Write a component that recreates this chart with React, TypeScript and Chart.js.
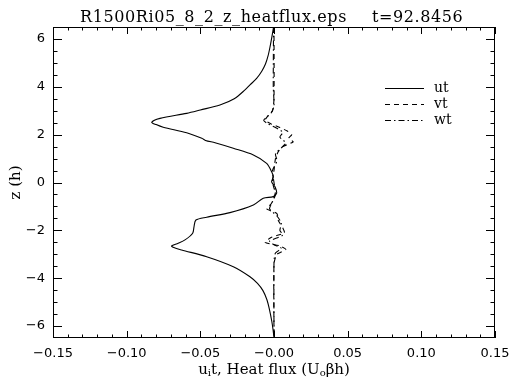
import { useEffect, useRef } from "react";
import { Chart, registerables } from "chart.js";
Chart.register(...registerables);

const seriesNames = ["ut", "vt", "wt"];

const zUt = [6.5, 6.1, 5.7, 5.3, 4.95, 4.65, 4.35, 4.08, 3.87, 3.5, 3.24, 3.03, 2.89, 2.68, 2.52, 2.42, 2.31, 2.08, 1.85, 1.76, 1.66, 1.43, 1.15, 0.8, 0.45, 0.24, 0.03, -0.18, -0.45, -0.59, -0.66, -0.94, -1.26, -1.45, -1.57, -1.85, -2.12, -2.4, -2.54, -2.65, -2.72, -2.82, -3.1, -3.52, -3.94, -4.22, -4.52, -4.9, -5.33, -5.8, -6.17, -6.5];
const ut = [-0.0003, -0.0014, -0.0026, -0.004, -0.0058, -0.0083, -0.0118, -0.0163, -0.0197, -0.027, -0.0367, -0.05, -0.0593, -0.0774, -0.083, -0.080, -0.0752, -0.0593, -0.049, -0.0465, -0.040, -0.0276, -0.014, -0.005, -0.0016, -0.0005, -0.0016, 0.0007, 0.0018, -0.0005, -0.0073, -0.014, -0.0299, -0.0457, -0.053, -0.0543, -0.0552, -0.0604, -0.065, -0.0695, -0.068, -0.0627, -0.0457, -0.0276, -0.0163, -0.0112, -0.0075, -0.0048, -0.003, -0.0015, -0.0006, 0.0];

const zVt = [6.5, 3.5, 3.0, 2.8, 2.6, 2.45, 2.3, 2.15, 2.0, 1.85, 1.7, 1.5, 1.3, 1.0, 0.5, 0.0, -0.5, -0.9, -1.1, -1.3, -1.6, -1.9, -2.1, -2.3, -2.5, -2.65, -2.8, -3.0, -3.4, -6.5];
const vt = [0.0, 0.0, -0.001, -0.004, -0.006, -0.002, 0.004, 0.009, 0.012, 0.01, 0.013, 0.006, 0.003, 0.001, 0.0, -0.001, 0.001, -0.002, -0.005, 0.002, 0.003, 0.006, 0.007, -0.002, -0.006, 0.004, 0.008, 0.002, 0.0, 0.0];

const zWt = [6.5, 4.0, 3.2, 2.9, 2.6, 2.45, 2.3, 2.1, 1.9, 1.65, 1.45, 1.2, 0.9, 0.5, 0.0, -0.4, -0.8, -1.1, -1.4, -1.7, -2.0, -2.2, -2.45, -2.6, -2.75, -2.95, -3.3, -6.5];
const wt = [-0.0003, -0.0005, 0.0, -0.002, -0.007, -0.004, 0.001, 0.006, 0.004, 0.008, 0.005, 0.001, 0.002, -0.001, 0.0, 0.001, -0.001, -0.003, 0.002, 0.005, 0.004, 0.006, -0.003, 0.0, 0.005, 0.001, 0.0, 0.0];

const xTicks = [-0.15, -0.1, -0.05, 0, 0.05, 0.1, 0.15];
const xTickLabels = ["\u22120.15", "\u22120.10", "\u22120.05", "\u22120.00", "0.05", "0.10", "0.15"];
const yTicks = [-6, -4, -2, 0, 2, 4, 6];
const yTickLabels = ["\u22126", "\u22124", "\u22122", "0", "2", "4", "6"];
const xMinorStep = 0.01;
const yMinorStep = 0.5;

const titleLeft = "R1500Ri05_8_2_z_heatflux.eps";
const titleRight = "t=92.8456";
const yTitle = "z (h)";

const SERIF = "'DejaVu Serif', serif";
const SANS = "'DejaVu Sans', sans-serif";
const dashes = [[], [5, 4], [6, 3, 1.5, 3]];

const framePlugin = {
  id: "frame",
  afterDatasetsDraw(chart: any) {
    const { ctx, chartArea: a, scales } = chart;
    const xs = scales.x;
    const ys = scales.y;
    ctx.save();
    ctx.strokeStyle = "#000";
    ctx.fillStyle = "#000";
    ctx.lineWidth = 1;
    ctx.setLineDash([]);
    ctx.strokeRect(a.left + 0.5, a.top + 0.5, a.right - a.left - 1, a.bottom - a.top - 1);

    ctx.beginPath();
    const xMin = xs.min, xMax = xs.max;
    const nx = Math.round((xMax - xMin) / xMinorStep);
    for (let i = 0; i <= nx; i++) {
      const v = xMin + i * xMinorStep;
      const major = xTicks.some((t) => Math.abs(t - v) < 1e-9);
      const len = major ? 7 : 3.5;
      const px = Math.round(xs.getPixelForValue(v)) + 0.5;
      ctx.moveTo(px, a.bottom);
      ctx.lineTo(px, a.bottom - len);
      ctx.moveTo(px, a.top);
      ctx.lineTo(px, a.top + len);
    }
    const yMin = -6, yMax = 6.5;
    const ny = Math.round((yMax - yMin) / yMinorStep);
    for (let i = 0; i <= ny; i++) {
      const v = yMin + i * yMinorStep;
      const major = yTicks.some((t) => Math.abs(t - v) < 1e-9);
      const len = major ? 9 : 4.5;
      const py = Math.round(ys.getPixelForValue(v)) + 0.5;
      ctx.moveTo(a.left, py);
      ctx.lineTo(a.left + len, py);
      ctx.moveTo(a.right, py);
      ctx.lineTo(a.right - len, py);
    }
    ctx.stroke();

    // Title
    ctx.font = `16px ${SERIF}`;
    (ctx as any).letterSpacing = "0.6px";
    ctx.textBaseline = "alphabetic";
    ctx.textAlign = "left";
    ctx.fillText(titleLeft, 80, 22);
    ctx.fillText(titleRight, 372, 22);
    (ctx as any).letterSpacing = "0px";

    // Y title
    ctx.save();
    ctx.translate(20, (a.top + a.bottom) / 2);
    ctx.rotate(-Math.PI / 2);
    ctx.textAlign = "center";
    ctx.textBaseline = "alphabetic";
    ctx.font = `15px ${SERIF}`;
    ctx.fillText(yTitle, 0, 0);
    ctx.restore();

    // X title with subscripts
    const parts: [string, boolean][] = [["u", false], ["i", true], ["t, Heat flux (U", false], ["o", true], ["\u03b2h)", false]];
    const big = `15px ${SERIF}`;
    const small = `10px ${SERIF}`;
    let total = 0;
    for (const [s, sub] of parts) {
      ctx.font = sub ? small : big;
      total += ctx.measureText(s).width;
    }
    let x = (a.left + a.right) / 2 - total / 2;
    const base = 374;
    ctx.textAlign = "left";
    for (const [s, sub] of parts) {
      ctx.font = sub ? small : big;
      ctx.fillText(s, x, sub ? base + 2 : base);
      x += ctx.measureText(s).width;
    }

    // Legend
    const ly = [88, 104, 120];
    seriesNames.forEach((name, i) => {
      ctx.setLineDash(dashes[i]);
      ctx.lineWidth = 1.2;
      ctx.beginPath();
      ctx.moveTo(385, ly[i] + 0.5);
      ctx.lineTo(424, ly[i] + 0.5);
      ctx.stroke();
      ctx.setLineDash([]);
      ctx.font = `14px ${SERIF}`;
      ctx.textBaseline = "middle";
      ctx.fillText(name, 434, ly[i]);
    });
    ctx.restore();
  },
};

function toPoints(xv: number[], zv: number[]) {
  return xv.map((v, i) => ({ x: v, y: zv[i] }));
}

export default function App() {
  const ref = useRef<HTMLCanvasElement | null>(null);
  useEffect(() => {
    document.body.style.margin = "0";
    const canvas = ref.current!;
    const chart = new Chart(canvas, {
      type: "scatter",
      data: {
        datasets: [
          { label: seriesNames[0], data: toPoints(ut, zUt), borderDash: dashes[0], tension: 0.3 },
          { label: seriesNames[1], data: toPoints(vt, zVt), borderDash: dashes[1], tension: 0.2 },
          { label: seriesNames[2], data: toPoints(wt, zWt), borderDash: dashes[2], tension: 0.2 },
        ].map((d) => ({
          ...d,
          showLine: true,
          borderColor: "#000",
          backgroundColor: "#000",
          borderWidth: 1.1,
          pointRadius: 0,
          fill: false,
        })) as any,
      },
      options: {
        animation: false,
        responsive: false,
        devicePixelRatio: 1,
        layout: { padding: { top: 27, right: 14, left: 0, bottom: 0 } },
        plugins: { legend: { display: false }, title: { display: false }, tooltip: { enabled: false } },
        scales: {
          x: {
            type: "linear",
            min: -0.15,
            max: 0.15,
            grid: { display: false, drawTicks: false },
            border: { display: false },
            afterBuildTicks: (s: any) => {
              s.ticks = xTicks.map((v) => ({ value: v }));
            },
            afterFit: (s: any) => {
              s.height = 39;
              s.paddingLeft = 0;
              s.paddingRight = 0;
            },
            ticks: {
              padding: 8,
              color: "#000",
              font: { family: SANS, size: 13 },
              maxRotation: 0,
              autoSkip: false,
              callback: (v: any) => {
                const i = xTicks.findIndex((t) => Math.abs(t - v) < 1e-9);
                return i >= 0 ? xTickLabels[i] : "";
              },
            },
          },
          y: {
            type: "linear",
            min: -6.5,
            max: 6.5,
            grid: { display: false, drawTicks: false },
            border: { display: false },
            afterBuildTicks: (s: any) => {
              s.ticks = yTicks.map((v) => ({ value: v }));
            },
            afterFit: (s: any) => {
              s.width = 53;
              s.paddingTop = 0;
              s.paddingBottom = 0;
            },
            ticks: {
              padding: 8,
              color: "#000",
              font: { family: SANS, size: 13 },
              autoSkip: false,
              callback: (v: any) => {
                const i = yTicks.findIndex((t) => Math.abs(t - v) < 1e-9);
                return i >= 0 ? yTickLabels[i] : "";
              },
            },
          },
        },
      },
      plugins: [framePlugin],
    });
    return () => chart.destroy();
  }, []);
  return (
    <div style={{ position: "absolute", left: 0, top: 0, width: 509, height: 377, background: "#fff" }}>
      <canvas ref={ref} width={509} height={377} />
    </div>
  );
}
